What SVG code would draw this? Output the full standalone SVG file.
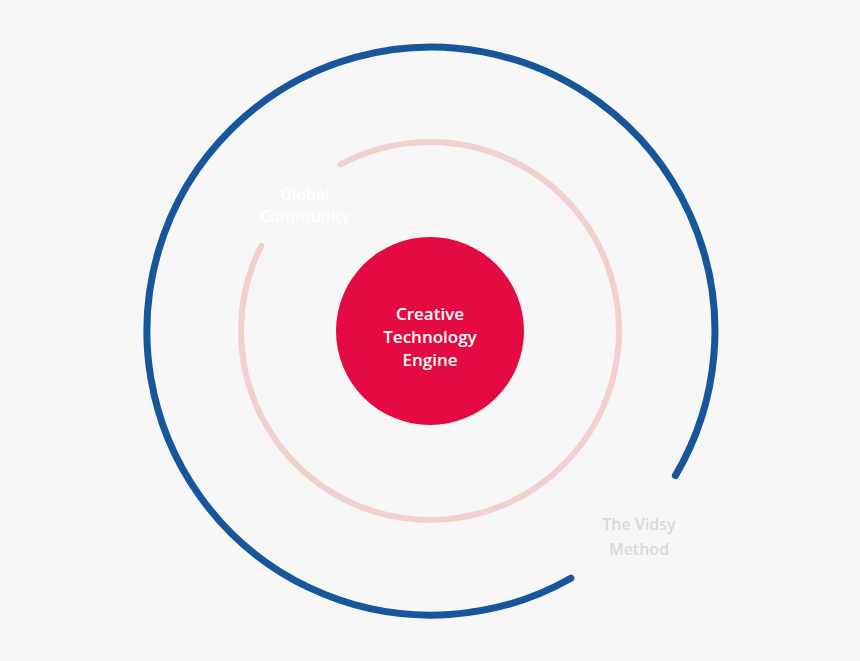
<svg xmlns="http://www.w3.org/2000/svg" width="860" height="661" viewBox="0 0 860 661">
<style>
.t{font-family:"Open Sans","Liberation Sans",sans-serif;font-weight:600;text-anchor:middle}
</style>
<rect width="860" height="661" fill="#f7f7f7"/>
<g id="connectors">
<path id="outer-ring" d="M675.4,475.6 A284,284 0 1 0 570.9,578.2" fill="none" stroke="#17569b" stroke-width="7" stroke-linecap="round"/>
<path id="inner-ring" d="M340.7,164.4 A189,189 0 1 1 261.3,245.8" fill="none" stroke="#f0d1cd" stroke-width="6" stroke-linecap="round"/>
</g>
<g id="engine">
<circle cx="430" cy="331" r="94" fill="#e30b41"/>
<text class="t" x="430" y="320" font-size="17" fill="#fff">Creative</text>
<text class="t" x="430" y="343" font-size="17" fill="#fff">Technology</text>
<text class="t" x="430" y="366" font-size="17" fill="#fff">Engine</text>
</g>
<g id="global-community">
<text class="t" x="305" y="200" font-size="16" fill="#ffffff">Global</text>
<text class="t" x="305" y="222" font-size="16" fill="#ffffff">Community</text>
</g>
<g id="vidsy-method">
<text class="t" x="639" y="530" font-size="16" fill="#d9d9d9">The Vidsy</text>
<text class="t" x="639" y="555" font-size="16" fill="#d9d9d9">Method</text>
</g>
</svg>
